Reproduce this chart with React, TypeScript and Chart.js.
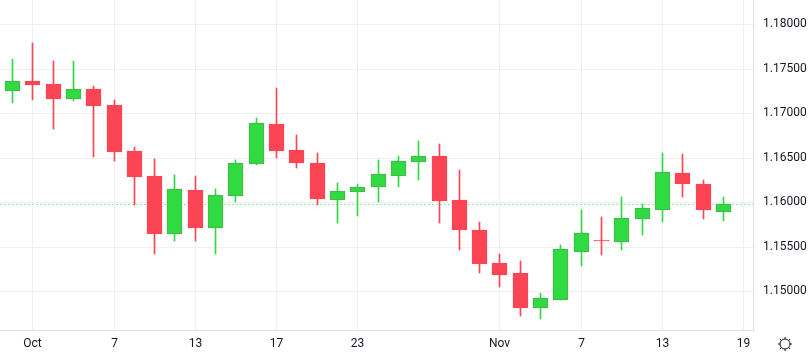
import React, { useEffect, useRef } from "react";
import { Chart, registerables } from "chart.js";

Chart.register(...registerables);

const opens = [
  1.17251, 1.1736, 1.17327, 1.17162, 1.1727, 1.17091, 1.16575, 1.16294, 1.15646, 1.16137, 1.15714, 1.16073,
  1.16432, 1.16878, 1.16586, 1.1644, 1.16028, 1.16118, 1.16174, 1.16297, 1.16455, 1.16518, 1.16025, 1.15688,
  1.15318, 1.15205, 1.14816, 1.14906, 1.15444, 1.15576, 1.15557, 1.15815, 1.15916, 1.16328, 1.16204, 1.15893,
];
const closes = [
  1.17357, 1.17315, 1.17158, 1.17267, 1.1708, 1.16563, 1.16286, 1.15646, 1.16145, 1.15714, 1.16077, 1.16437,
  1.16885, 1.16578, 1.16443, 1.16039, 1.16122, 1.16167, 1.16313, 1.16459, 1.16515, 1.16013, 1.15688, 1.15306,
  1.15183, 1.14813, 1.14921, 1.15471, 1.15651, 1.15568, 1.15819, 1.15932, 1.16336, 1.16208, 1.15912, 1.15976,
];
const highs = [
  1.17607, 1.17787, 1.17585, 1.17585, 1.17304, 1.17147, 1.16619, 1.16485, 1.16305, 1.16294, 1.16148, 1.16474,
  1.16945, 1.17282, 1.16754, 1.16552, 1.16215, 1.16204, 1.16474, 1.16518, 1.16687, 1.16653, 1.16361, 1.15778,
  1.15419, 1.1534, 1.14981, 1.1552, 1.15912, 1.15834, 1.16058, 1.15976, 1.16552, 1.16541, 1.16249, 1.16058,
];
const lows = [
  1.17117, 1.17147, 1.16825, 1.17139, 1.16511, 1.16466, 1.15972, 1.15422, 1.15568, 1.15568, 1.15422, 1.16006,
  1.16417, 1.16496, 1.16384, 1.15972, 1.15767, 1.15845, 1.16002, 1.16171, 1.16249, 1.15767, 1.15464, 1.15205,
  1.15048, 1.14723, 1.14689, 1.14906, 1.15284, 1.15407, 1.15464, 1.15632, 1.15778, 1.16058, 1.15811, 1.15789,
];
const xTickIndexes = [1, 5, 9, 13, 17, 24, 28, 32, 36];
const xTickLabels = ["Oct", "7", "13", "17", "23", "Nov", "7", "13", "19"];
const yTickValues = [1.15, 1.155, 1.16, 1.165, 1.17, 1.175, 1.18];
const lastPrice = 1.159743;

const UP = "#30DB41";
const DOWN = "#FC4554";
const UP_BORDER = "#4CAF50";
const GRID = "#F0F0F0";
const AXIS_LINE = "#E0E0E0";
const TEXT = "#131722";
const FONT = "Roboto";

const X_MIN = -0.615;
const X_MAX = 36.46;
const Y_MIN = 1.14566;
const Y_MAX = 1.18269;

// Snap scale output to the pixel grid so that candles stay crisp.
function snap(axis: any, fn: (px: number) => number) {
  if (axis.__snapped) return;
  axis.__snapped = true;
  const original = axis.getPixelForValue.bind(axis);
  axis.getPixelForValue = (v: number, i?: number) => fn(original(v, i));
}

// Labels must not push the plot area inward.
function noPadding(axis: any) {
  axis.paddingTop = 0;
  axis.paddingBottom = 0;
  axis.paddingLeft = 0;
  axis.paddingRight = 0;
}

export default function App() {
  const ref = useRef<HTMLCanvasElement>(null);

  useEffect(() => {
    document.body.style.margin = "0";
    const index = opens.map((_, i) => i);
    const isUp = (i: number) => closes[i] >= opens[i];
    const chart = new Chart(ref.current!, {
      type: "bar",
      data: {
        datasets: [
          {
            type: "line",
            yAxisID: "yLine",
            data: [
              { x: X_MIN, y: lastPrice },
              { x: X_MAX, y: lastPrice },
            ],
            borderColor: UP,
            borderWidth: 1,
            borderDash: [1, 3],
            pointRadius: 0,
            order: 3,
          },
          {
            type: "bar",
            data: index.map((i) => ({ x: i, y: [lows[i], highs[i]] })),
            backgroundColor: index.map((i) => (isUp(i) ? UP : DOWN)),
            barThickness: 1,
            grouped: false,
            order: 2,
          },
          {
            type: "bar",
            data: index.map((i) => ({ x: i, y: [opens[i], closes[i]] })),
            backgroundColor: index.map((i) => (isUp(i) ? UP : DOWN)),
            borderColor: index.map((i) => (isUp(i) ? UP_BORDER : DOWN)),
            borderWidth: 1,
            borderSkipped: false,
            barThickness: 15,
            minBarLength: 1,
            grouped: false,
            order: 1,
          },
        ],
      } as any,
      options: {
        animation: false,
        responsive: false,
        parsing: { xAxisKey: "x", yAxisKey: "y" },
        layout: { padding: 0 },
        plugins: { legend: { display: false }, tooltip: { enabled: false } },
        scales: {
          x: {
            type: "linear",
            offset: false,
            min: X_MIN,
            max: X_MAX,
            afterBuildTicks: (axis: any) => {
              axis.ticks = xTickIndexes.map((value) => ({ value }));
            },
            afterFit: (axis: any) => {
              axis.height = 26;
              noPadding(axis);
              snap(axis, (px) => Math.floor(px) + 0.5);
            },
            grid: {
              color: GRID,
              offset: false,
              drawTicks: false,
            },
            border: { color: AXIS_LINE, width: 1 },
            ticks: {
              autoSkip: false,
              maxRotation: 0,
              padding: 7,
              color: TEXT,
              font: { family: FONT, size: 12 },
              callback: (_v: any, i: number) => xTickLabels[i],
            },
          },
          y: {
            position: "right",
            min: Y_MIN,
            max: Y_MAX,
            afterBuildTicks: (axis: any) => {
              axis.ticks = yTickValues.map((value) => ({ value }));
            },
            afterFit: (axis: any) => {
              axis.width = 58;
              noPadding(axis);
              snap(axis, (px) => Math.round(px));
            },
            grid: { color: GRID, drawTicks: false },
            border: { color: AXIS_LINE, width: 1 },
            ticks: {
              autoSkip: false,
              padding: 10,
              color: TEXT,
              font: { family: FONT, size: 12 },
              callback: (v: any) => Number(v).toFixed(5),
            },
          },
          yLine: {
            display: false,
            position: "right",
            min: Y_MIN,
            max: Y_MAX,
            afterFit: (axis: any) => {
              axis.width = 0;
              noPadding(axis);
            },
          },
        },
      },
    });
    return () => chart.destroy();
  }, []);

  return (
    <div style={{ position: "relative", width: 811, height: 356 }}>
      <canvas ref={ref} width={811} height={356} style={{ display: "block" }} />
      <svg
        width={16}
        height={16}
        viewBox="0 0 16 16"
        style={{ position: "absolute", left: 777, top: 336 }}
        fill="none"
        stroke={TEXT}
        strokeWidth={1}
      >
        <circle cx={8} cy={8} r={5} />
        <path d="M8 1v2M8 13v2M1 8h2M13 8h2M3 3l1.5 1.5M11.5 11.5L13 13M3 13l1.5-1.5M11.5 4.5L13 3" />
      </svg>
    </div>
  );
}
